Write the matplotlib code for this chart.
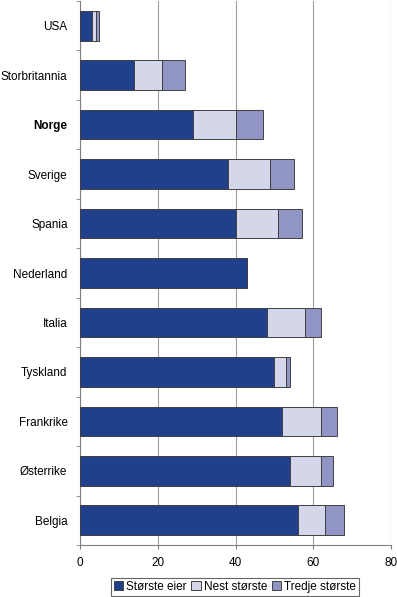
import matplotlib
matplotlib.use("Agg")
from matplotlib import pyplot as plt
import numpy as np

plt.rcParams['font.family'] = ['Liberation Sans', 'DejaVu Sans']

countries = ['USA', 'Storbritannia', 'Norge', 'Sverige', 'Spania', 'Nederland',
             'Italia', 'Tyskland', 'Frankrike', 'Østerrike', 'Belgia']
storste = [3, 14, 29, 38, 40, 43, 48, 50, 52, 54, 56]
nest = [1, 7, 11, 11, 11, 0, 10, 3, 10, 8, 7]
tredje = [1, 6, 7, 6, 6, 0, 4, 1, 4, 3, 5]

series = ['Største eier', 'Nest største', 'Tredje største']
colors = ['#21408c', '#d4d6ea', '#9095c6']

fig = plt.figure(figsize=(3.97, 5.97), dpi=100)
ax = fig.add_axes([80 / 397, 52 / 597, 311 / 397, 544 / 597])

y = np.arange(len(countries))
left = np.zeros(len(countries))
for vals, lab, col in zip([storste, nest, tredje], series, colors):
    ax.barh(y, vals, left=left, height=0.6, color=col, edgecolor='#404040',
            linewidth=0.7, label=lab, zorder=3)
    left = left + np.array(vals)

ax.set_xlim(0, 80)
ax.set_ylim(len(countries) - 0.5, -0.5)
ax.set_xticks([0, 20, 40, 60, 80])
ax.tick_params(axis='x', labelsize=8.5, length=3, color='#808080', pad=6)
ax.set_yticks(y)
ax.set_yticklabels(countries, fontsize=8.5)
ax.tick_params(axis='y', length=0, pad=9)
ax.set_yticks(np.arange(-0.5, len(countries)), minor=True)
ax.tick_params(axis='y', which='minor', length=3, color='#808080')
ax.get_yticklabels()[2].set_fontweight('bold')

ax.grid(axis='x', color='#a0a0a0', linewidth=0.8, zorder=0)
for s in ['top', 'right']:
    ax.spines[s].set_visible(False)
for s in ['left', 'bottom']:
    ax.spines[s].set_color('#808080')
    ax.spines[s].set_linewidth(0.8)

leg = fig.legend(loc='lower center', bbox_to_anchor=(235 / 397, 0.0), ncol=3,
                 fontsize=8.5, frameon=True, fancybox=False, handlelength=0.8,
                 handleheight=0.8, handletextpad=0.25, columnspacing=0.4,
                 borderpad=0.25, borderaxespad=0.1)
leg.get_frame().set_edgecolor('#404040')
leg.get_frame().set_linewidth(0.8)

fig.savefig('out.png', dpi=100)
